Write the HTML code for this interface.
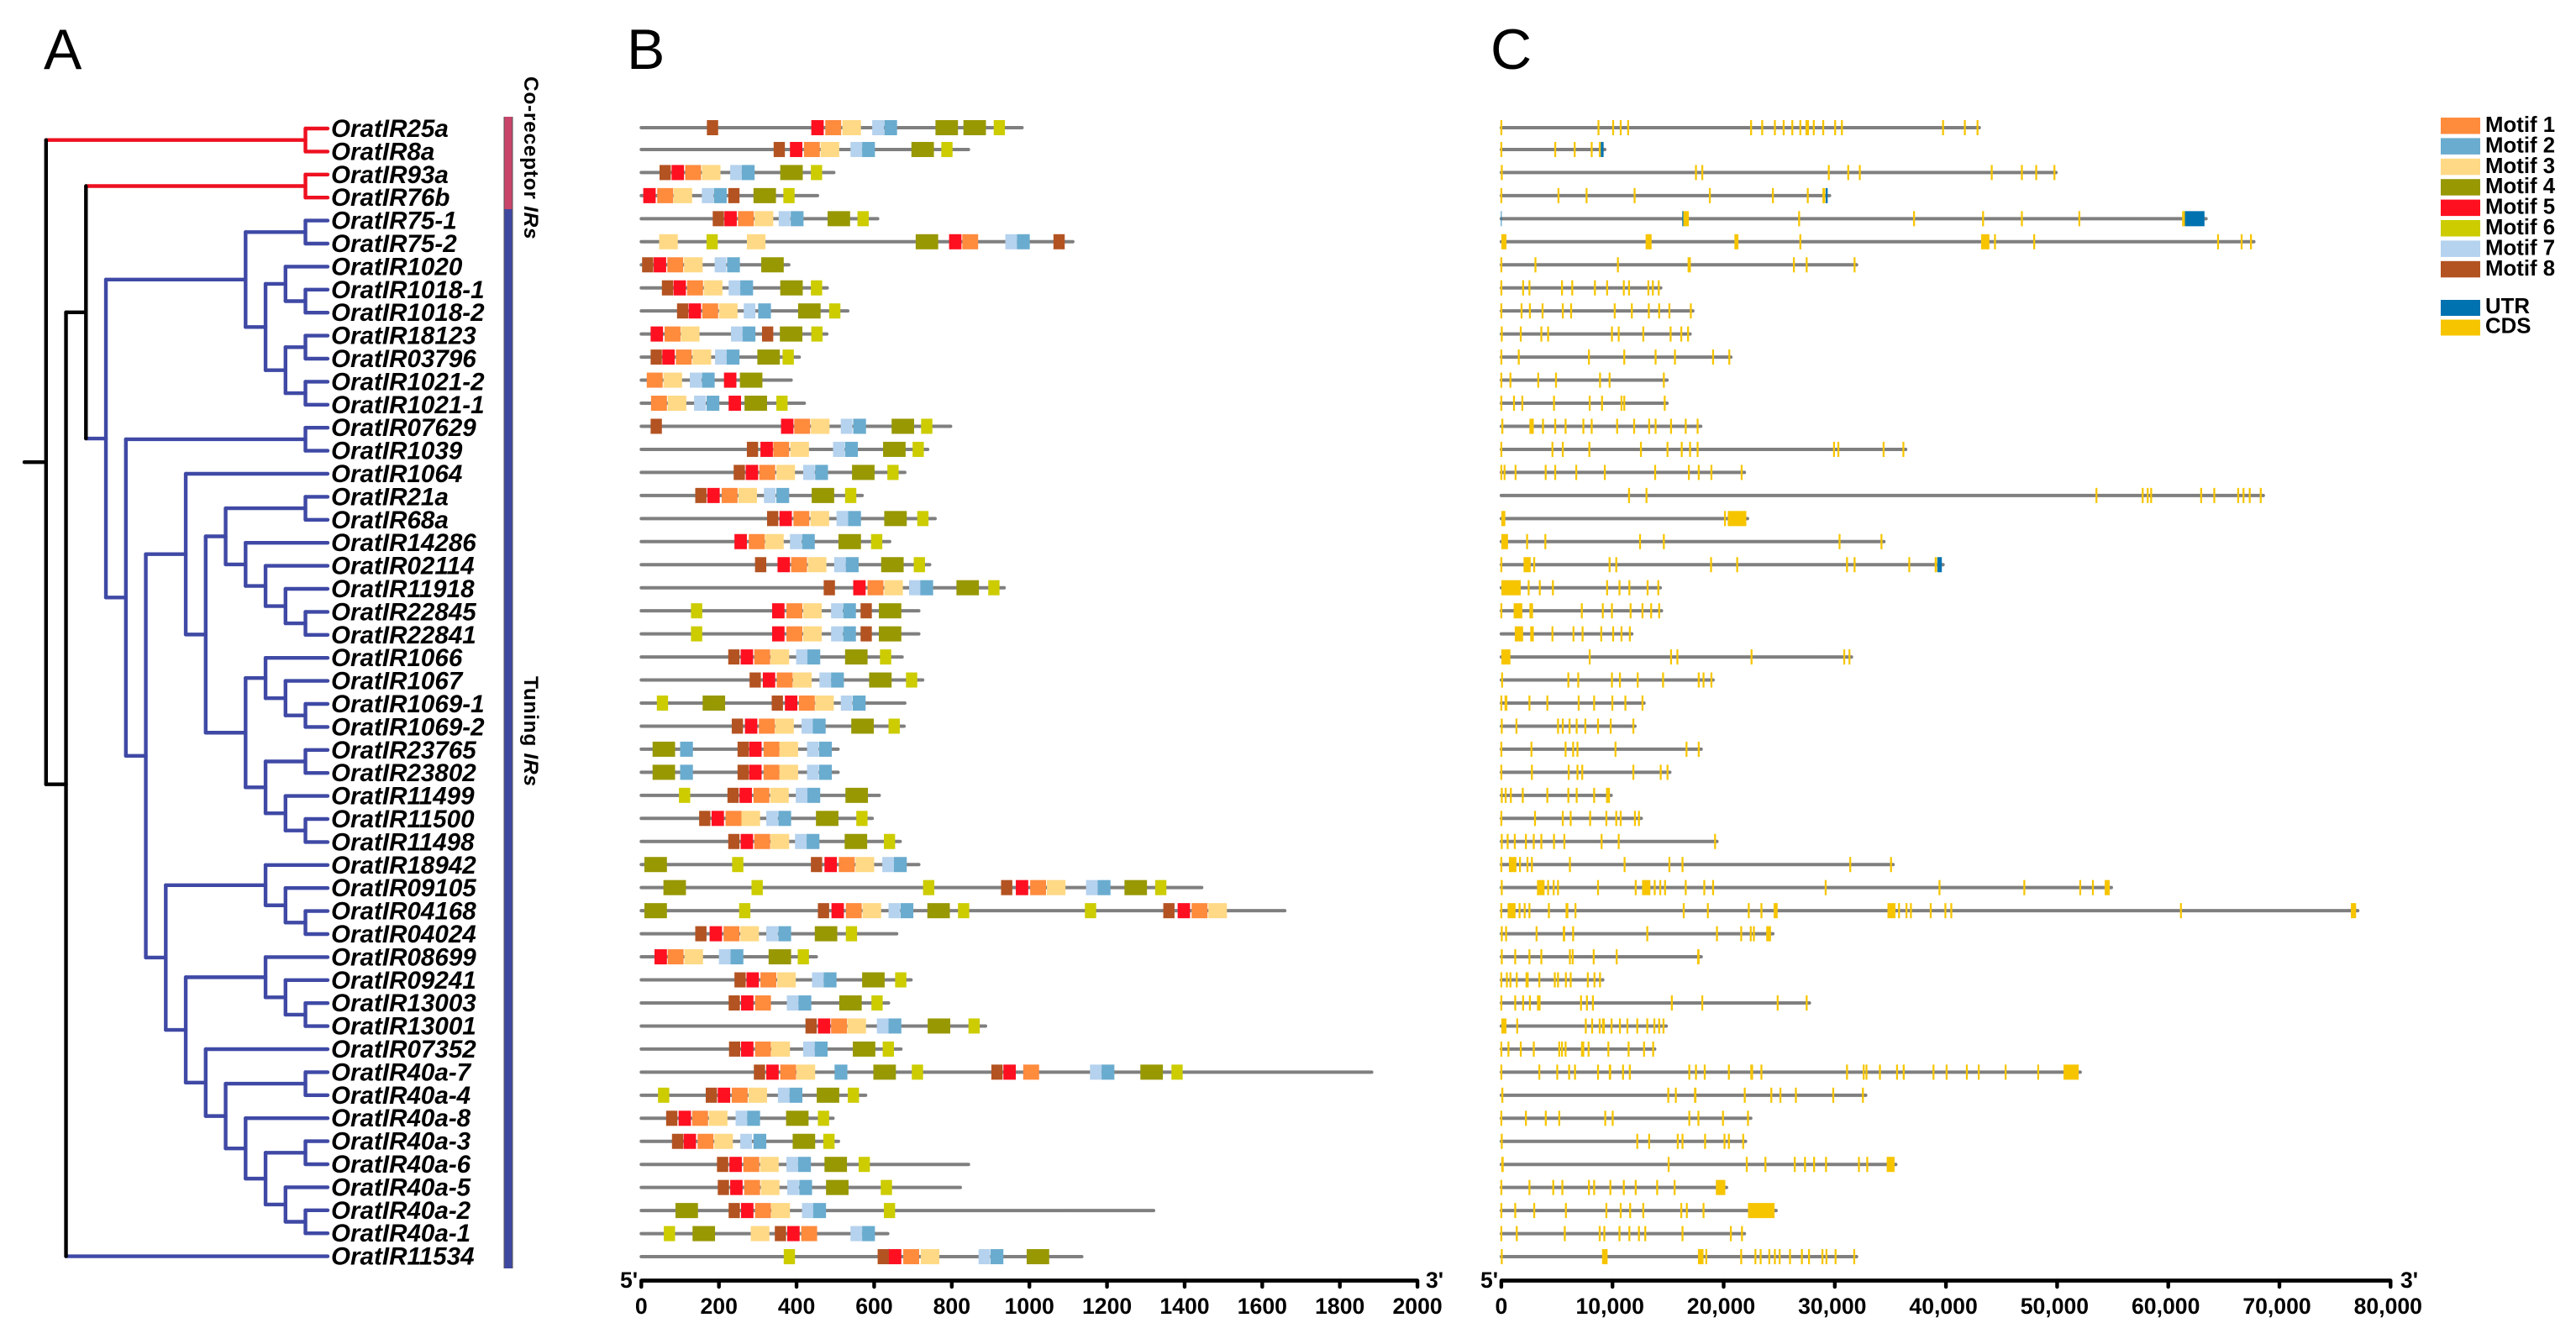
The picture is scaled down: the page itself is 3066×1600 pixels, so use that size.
<!DOCTYPE html>
<html lang="en">
<head>
<meta charset="utf-8">
<title>OratIR phylogeny, motifs and gene structure</title>
<style>
html,body{margin:0;padding:0;background:#fff;}
svg{display:block;font-family:"Liberation Sans",sans-serif;}
.leaf{font-weight:bold;font-style:italic;font-size:29.6px;fill:#000;}
.tick{font-weight:bold;font-size:26.6px;fill:#000;}
.leg{font-weight:bold;font-size:25.8px;fill:#000;}
.panel{font-size:68px;fill:#000;}
.group{font-weight:bold;font-size:24.5px;letter-spacing:0.7px;fill:#000;}
</style>
</head>
<body>
<svg id="figure" width="3066" height="1600" viewBox="0 0 3066 1600" xmlns="http://www.w3.org/2000/svg">
  <rect width="3066" height="1600" fill="#fff"/>
  <text class="panel" x="52" y="82">A</text>
  <text class="panel" x="746" y="82">B</text>
  <text class="panel" x="1774" y="82">C</text>
  <g id="tree"></g>
  <g id="labels"></g>
  <rect x="600" y="139" width="10" height="110" fill="#c9456a"/>
  <rect x="600" y="249" width="10" height="1261" fill="#3f48a0"/>
  <rect x="599.5" y="139" width="1" height="1371" fill="#555"/>
  <rect x="609.5" y="139" width="1" height="1371" fill="#555"/>
  <text class="group" transform="translate(624,91) rotate(90)">Co-receptor <tspan font-style="italic">IRs</tspan></text>
  <text class="group" transform="translate(624,805) rotate(90)">Tuning <tspan font-style="italic">IRs</tspan></text>
  <g id="motifs"></g>
  <g id="exons"></g>
  <g id="axisB"></g>
  <g id="axisC"></g>
  <g id="legend"></g>
</svg>
<script>
const geneNames = ["OratIR25a","OratIR8a","OratIR93a","OratIR76b","OratIR75-1","OratIR75-2","OratIR1020","OratIR1018-1","OratIR1018-2","OratIR18123","OratIR03796","OratIR1021-2","OratIR1021-1","OratIR07629","OratIR1039","OratIR1064","OratIR21a","OratIR68a","OratIR14286","OratIR02114","OratIR11918","OratIR22845","OratIR22841","OratIR1066","OratIR1067","OratIR1069-1","OratIR1069-2","OratIR23765","OratIR23802","OratIR11499","OratIR11500","OratIR11498","OratIR18942","OratIR09105","OratIR04168","OratIR04024","OratIR08699","OratIR09241","OratIR13003","OratIR13001","OratIR07352","OratIR40a-7","OratIR40a-4","OratIR40a-8","OratIR40a-3","OratIR40a-6","OratIR40a-5","OratIR40a-2","OratIR40a-1","OratIR11534"];

// Tree topology: [depth level, child, child]; a bare number is a leaf index into geneNames
const cladeCoA = [13,0,1];
const cladeCoB = [13,2,3];
const clade75 = [10,[13,4,5],[11,[12,6,[13,7,8]],[12,[13,9,10],[13,11,12]]]];
const clade16 = [9,[13,16,17],[10,18,[11,19,[12,20,[13,21,22]]]]];
const clade23 = [10,[11,23,[12,24,[13,25,26]]],[11,[13,27,28],[12,29,[13,30,31]]]];
const clade15 = [7,15,[8,clade16,clade23]];
const clade32 = [11,32,[12,33,[13,34,35]]];
const clade36 = [11,36,[12,37,[13,38,39]]];
const clade41 = [9,[13,41,42],[10,43,[11,[13,44,45],[12,46,[13,47,48]]]]];
const clade32to48 = [6,clade32,[7,clade36,[8,40,clade41]]];
const cladeTuning = [3,clade75,[4,[13,13,14],[5,clade15,clade32to48]]];
const treeShape = [0,cladeCoA,[1,[2,cladeCoB,cladeTuning],49]];

// Protein lengths (aa)
const proteinLengths = [981,843,496,454,609,1112,380,479,532,478,407,386,420,797,738,679,569,757,640,743,935,715,715,672,725,679,677,507,507,613,595,667,715,1444,1658,658,451,695,637,887,669,1882,578,494,508,843,822,1320,635,1135];

// Motif hits per protein: [motif number, start aa]
const motifHits = [
[[8,169],[5,438],[1,474],[3,518],[7,595],[2,626],[4,758],[4,830],[6,908]],
[[8,341],[5,383],[1,419],[3,462],[7,539],[2,569],[4,696],[6,773]],
[[8,47],[5,78],[1,113],[3,156],[7,229],[2,259],[4,358],[6,437]],
[[5,5],[1,41],[3,83],[7,156],[2,187],[8,224],[4,289],[6,366]],
[[8,184],[5,214],[1,249],[3,292],[7,354],[2,385],[4,480],[6,557]],
[[3,46],[6,168],[3,272],[4,707],[5,793],[1,827],[7,938],[2,968],[8,1062]],
[[8,2],[5,32],[1,67],[3,110],[7,189],[2,221],[4,309]],
[[8,53],[5,83],[1,118],[3,161],[7,225],[2,255],[4,358],[6,437]],
[[8,92],[5,122],[1,157],[3,200],[7,264],[2,301],[4,404],[6,484]],
[[5,24],[1,60],[3,102],[7,231],[2,261],[8,311],[4,357],[6,438]],
[[8,24],[5,54],[1,89],[3,132],[7,190],[2,220],[4,299],[6,364]],
[[1,14],[3,57],[7,125],[2,156],[5,213],[4,254]],
[[1,25],[3,68],[7,136],[2,168],[5,225],[4,266],[6,348]],
[[8,24],[5,360],[1,394],[3,437],[7,514],[2,546],[4,645],[6,721]],
[[8,272],[5,307],[1,340],[3,384],[7,494],[2,525],[4,623],[6,699]],
[[8,238],[5,269],[1,304],[3,348],[7,417],[2,448],[4,543],[6,634]],
[[8,139],[5,170],[1,207],[3,250],[7,316],[2,348],[4,439],[6,525]],
[[8,324],[5,356],[1,392],[3,436],[7,503],[2,533],[4,626],[6,711]],
[[5,240],[1,277],[3,319],[7,383],[2,414],[4,508],[6,592]],
[[8,293],[5,351],[1,386],[3,429],[7,497],[2,527],[4,618],[6,702]],
[[8,470],[5,546],[1,583],[3,626],[7,690],[2,719],[4,812],[6,894]],
[[6,128],[5,337],[1,374],[3,417],[7,489],[2,520],[8,565],[4,612]],
[[6,128],[5,337],[1,374],[3,417],[7,489],[2,520],[8,565],[4,612]],
[[8,224],[5,256],[1,291],[3,333],[7,399],[2,428],[4,525],[6,615]],
[[8,279],[5,313],[1,349],[3,391],[7,459],[2,489],[4,587],[6,682]],
[[6,40],[4,158],[8,336],[5,370],[1,406],[3,448],[7,514],[2,545]],
[[8,233],[5,267],[1,303],[3,345],[7,413],[2,442],[4,541],[6,637]],
[[4,29],[2,100],[8,248],[5,278],[1,315],[3,356],[7,427],[2,458]],
[[4,29],[2,100],[8,248],[5,278],[1,315],[3,356],[7,427],[2,458]],
[[6,97],[8,222],[5,253],[1,289],[3,332],[7,398],[2,428],[4,526]],
[[8,149],[5,181],[1,217],[3,258],[7,322],[2,353],[4,450],[6,554]],
[[8,224],[5,256],[1,291],[3,333],[7,396],[2,426],[4,524],[6,625]],
[[4,8],[6,234],[8,437],[5,472],[1,509],[3,552],[7,621],[2,651]],
[[4,57],[6,284],[6,726],[8,927],[5,965],[1,1002],[3,1045],[7,1146],[2,1176],[4,1245],[6,1324]],
[[4,8],[6,252],[8,455],[5,490],[1,527],[3,570],[7,637],[2,668],[4,737],[6,816],[6,1143],[8,1345],[5,1382],[1,1418],[3,1461]],
[[8,139],[5,176],[1,212],[3,255],[7,322],[2,353],[4,447],[6,527]],
[[5,34],[1,68],[3,111],[7,200],[2,230],[4,328],[6,403]],
[[8,240],[5,271],[1,307],[3,350],[7,440],[2,470],[4,569],[6,654]],
[[8,225],[5,257],[1,293],[7,375],[2,405],[4,510],[6,593]],
[[8,423],[5,455],[1,489],[3,531],[7,607],[2,637],[4,738],[6,843]],
[[8,226],[5,257],[1,293],[3,335],[7,417],[2,447],[4,545],[6,622]],
[[8,290],[5,322],[1,358],[3,400],[2,498],[4,598],[6,697],[8,902],[5,933],[1,984],[7,1156],[2,1186],[4,1286],[6,1366]],
[[6,43],[8,166],[5,197],[1,233],[3,276],[7,352],[2,382],[4,452],[6,532]],
[[8,64],[5,96],[1,131],[3,174],[7,243],[2,273],[4,373],[6,455]],
[[8,79],[5,109],[1,145],[3,188],[7,255],[2,289],[4,390],[6,469]],
[[8,195],[5,227],[1,263],[3,306],[7,374],[2,404],[4,472],[6,560]],
[[8,197],[5,229],[1,265],[3,308],[7,376],[2,407],[4,476],[6,617]],
[[4,88],[8,225],[5,257],[1,293],[3,335],[7,414],[2,443],[6,625]],
[[6,58],[4,132],[3,282],[8,344],[5,376],[1,412],[7,539],[2,569]],
[[6,367],[8,609],[5,638],[1,675],[3,720],[7,869],[2,900],[4,993]]
];

// Motif lengths (aa), indexed by motif number - 1
const motifLengths = [41,33,48,58,32,29,30,29];
const motifNames = ["Motif 1","Motif 2","Motif 3","Motif 4","Motif 5","Motif 6","Motif 7","Motif 8"];
const motifColors = ["#ff8b3d","#6aaccf","#ffd985","#989803","#ff1020","#cccc00","#b5d2ee","#b35321"];

// Gene lengths (kb)
const geneLengths = [43.0,9.31,49.9,29.53,63.4,67.7,31.96,14.34,17.23,16.98,20.65,14.91,14.91,17.94,36.38,21.87,68.55,22.15,34.42,39.74,14.3,14.41,11.74,31.5,19.05,12.84,12.02,17.98,15.16,9.88,12.59,19.4,35.24,54.88,77.05,24.43,17.98,9.13,27.72,14.84,13.8,52.08,32.78,22.44,21.97,35.49,20.26,24.72,21.87,31.96];

// CDS per gene (kb): a number is a short exon centre, a pair is [start, end]
const cdsExons = [
[0,8.74,10.06,10.74,11.41,22.47,23.47,24.61,25.4,26.18,26.9,[27.36,27.68],28.11,28.96,30.03,30.64,39.74,41.7,42.84],
[0,4.85,6.6,8.13,[8.77,8.95]],
[0.04,17.51,18.08,29.46,31.21,32.25,44.12,46.83,48.12,49.76],
[0,5.14,7.67,11.99,18.76,24.43,27.57,[28.89,29.14]],
[[16.37,16.87],26.79,37.13,43.34,46.83,52.0,[61.25,61.5]],
[[0,0.46],[12.98,13.52],[20.97,21.33],26.9,[43.16,43.91],44.41,47.94,64.48,66.6,67.44],
[0,3.07,10.49,[16.76,17.05],26.32,27.47,31.78],
[0,1.96,2.53,5.46,6.38,8.42,9.52,11.02,11.49,13.23,13.63,14.16],
[0,1.82,2.57,3.71,5.53,6.28,10.2,11.74,13.27,14.2,15.12,17.05],
[0.04,1.75,3.6,4.21,9.95,10.56,12.77,15.23,16.19,16.8],
[0,1.57,7.88,11.06,13.88,15.62,19.05,20.51],
[0,0.82,3.32,4.92,8.88,9.74,14.62],
[0,1.14,1.89,4.74,7.95,9.06,10.81,11.06,14.7],
[[0,0.18],[2.53,2.92],3.75,4.85,5.78,7.38,8.13,10.42,11.95,13.3,13.88,15.27,16.59,17.66],
[0,4.6,5.53,7.92,12.56,14.95,16.23,16.98,17.66,29.93,30.32,34.39,36.17],
[0,0.29,1.28,3.99,4.85,6.74,9.31,13.84,16.87,17.76,18.9,21.62],
[11.49,13.06,53.54,57.7,58.15,58.46,62.96,64.14,66.29,66.77,67.33,68.32],
[[0,0.36],20.12,[20.37,22.04]],
[[0,0.6],2.32,3.96,12.48,14.62,30.43,34.2],
[0,[2.0,2.64],2.96,9.74,10.34,18.87,21.22,31.1,31.78,36.7,[38.99,39.2]],
[[0,1.75],2.46,3.46,4.64,9.52,10.63,11.52,13.16,14.12],
[0,[1.11,1.89],[2.53,2.85],7.24,9.13,9.95,11.63,12.7,13.48,14.2],
[[1.21,1.96],[2.6,2.92],4.6,6.49,7.31,8.99,10.06,10.81,11.56],
[[0,0.82],7.95,15.27,15.84,22.51,30.85,31.32],
[0.07,6.03,6.92,9.95,10.67,12.27,14.55,17.76,18.19,18.9],
[0,[0.29,0.54],2.53,4.14,6.96,8.35,9.99,11.16,12.7],
[0.04,1.36,5.1,5.53,6.14,6.78,7.56,8.7,9.84,11.88],
[0,2.71,5.78,6.46,6.85,10.27,16.66,17.76],
[0,2.75,6.06,6.85,7.28,11.88,14.34,14.95],
[0.04,0.39,0.86,1.93,4.14,6.03,6.78,8.35,[9.42,9.77]],
[0,3.03,5.53,6.24,7.99,9.45,10.34,10.74,12.02,12.38],
[0.04,0.57,1.21,2.21,2.92,3.6,4.74,5.67,9.02,10.56,19.23],
[0,[0.68,1.36],1.68,2.35,2.75,6.17,11.09,15.12,16.3,31.39,35.06],
[0.04,[3.21,3.89],4.21,4.71,5.1,8.7,12.09,[12.66,13.41],13.8,14.3,14.73,16.59,18.26,19.05,29.18,39.42,47.05,52.08,53.22,[54.28,54.73]],
[0,[0.57,1.28],1.64,2.1,2.53,4.28,[5.78,6.03],6.67,16.41,18.58,22.26,23.4,[24.5,24.86],[34.74,35.46],35.78,36.45,36.85,38.63,39.95,40.48,61.14,[76.43,76.9]],
[0.04,0.43,3.17,[5.53,5.74],6.46,13.13,19.4,21.58,22.44,22.72,[23.83,24.26]],
[0.04,1.25,2.53,3.6,6.17,6.42,8.31,10.38,[17.62,17.83]],
[0,0.5,0.82,1.39,[2.18,2.46],3.42,4.81,5.1,5.81,6.24,7.78,8.38,8.88],
[0,1.25,1.96,2.57,[3.21,3.53],7.17,7.7,8.24,15.34,18.08,24.86,27.47],
[[0,0.46],1.43,7.6,8.17,8.85,[9.06,9.31],9.92,10.67,11.34,12.23,13.13,13.77,14.2,14.59],
[0,0.64,1.75,2.92,5.21,5.46,5.78,[7.17,7.46],7.85,9.63,11.45,12.84,13.66],
[0,3.42,5.03,6.1,6.63,8.7,[9.67,9.88],10.95,11.56,16.91,17.51,18.3,20.47,[22.4,22.65],23.4,31.1,32.6,32.85,34.06,35.6,36.2,38.88,40.06,41.88,42.95,45.37,48.3,[50.58,51.94]],
[[0,0.18],15.02,15.7,[17.34,17.55],21.9,24.29,25.11,26.5,29.86,32.53],
[0,2.21,4.0,5.21,9.35,10.02,16.91,17.73,19.94,22.19],
[0.04,12.23,13.3,15.87,16.3,18.33,20.08,20.47,21.76],
[[0,0.21],15.05,22.08,23.76,26.4,27.32,28.14,29.21,32.17,32.92,[34.67,35.38]],
[0,2.53,4.67,5.49,7.88,8.35,9.81,11.02,12.09,14.02,15.59,[19.3,20.15]],
[0,1.25,2.96,5.81,9.45,10.74,11.59,12.77,16.19,16.69,18.19,[22.19,24.58]],
[0,1.39,5.71,8.85,9.27,10.63,11.52,12.38,12.95,16.3,20.65,21.65],
[0.04,[9.06,9.56],[17.69,18.19],18.44,21.58,22.86,23.33,24.11,24.61,25.04,25.97,27.04,27.68,28.89,29.25,30.07,31.75]
];

// UTR segments: [gene index, start kb, end kb]
const utrSegments = [[1,8.95,9.2],[3,29.18,29.36],[4,-0.03,0.03],[4,16.28,16.37],[4,61.5,63.26],[19,39.23,39.63]];

// Axis ticks
const motifAxisTicks = [0,200,400,600,800,1000,1200,1400,1600,1800,2000];
const geneAxisTicks = [0,10000,20000,30000,40000,50000,60000,70000,80000];
const structureLegendNames = ["UTR","CDS"];

const SVGNS = "http://www.w3.org/2000/svg";
function make(parent, tag, attrs, text) {
  const el = document.createElementNS(SVGNS, tag);
  for (const k in attrs) el.setAttribute(k, attrs[k]);
  if (text !== undefined) el.textContent = text;
  parent.appendChild(el);
  return el;
}

// Scales
const xAA = v => 763.3 + v * 0.4619;
const xBP = v => 1786.9 + v * 0.01323;
const rowY = i => i === 0 ? 152 : 150.5 + 27.46 * i;
const leafY = i => 153 + 27.4 * i;
const levelX = l => 54.8 + 23.75 * l;
const LEAF_X = 390;
const BLACK = "#000", RED = "#ee1020", BLUE = "#3f49a5";

// ---- Tree ----
const treeG = document.getElementById("tree");
function leavesOf(n) {
  if (typeof n === "number") return [n];
  return n.slice(1).flatMap(leavesOf);
}
function colorOf(n, depth) {
  if (leavesOf(n).every(i => i <= 3)) return RED;
  if (typeof n !== "number" && depth <= 2) return BLACK;
  return BLUE;
}
function branch(x1, y1, x2, y2, color, name) {
  const l = make(treeG, "line", {x1: x1, y1: y1, x2: x2, y2: y2, stroke: color, "stroke-width": 4.4, "stroke-linecap": "round"});
  
  
}
function drawNode(n, depth) {
  if (typeof n === "number") return {y: leafY(n), x: LEAF_X};
  const x = levelX(n[0]);
  const color = colorOf(n, depth);
  const kids = n.slice(1).map(c => ({pos: drawNode(c, depth + 1), color: colorOf(c, depth + 1)}));
  kids.forEach(k => branch(x, k.pos.y, k.pos.x, k.pos.y, k.color, "tree-branch"));
  const ys = kids.map(k => k.pos.y);
  const yMin = Math.min(...ys), yMax = Math.max(...ys);
  branch(x, yMin, x, yMax, color, "tree-node-stem");
  return {y: (yMin + yMax) / 2, x: x};
}
const rootPos = drawNode(treeShape, 0);
branch(29, rootPos.y, levelX(0), rootPos.y, BLACK, "tree-root");

// ---- Labels ----
const labelG = document.getElementById("labels");
geneNames.forEach((name, i) => {
  const t = make(labelG, "text", {class: "leaf", x: 394, y: leafY(i) + 10}, name);
  
  
});

// ---- Motif panel ----
const motifG = document.getElementById("motifs");
geneNames.forEach((name, i) => {
  const y = rowY(i);
  const g = make(motifG, "g", {});
  
  
  const line = make(g, "line", {x1: xAA(0), y1: y, x2: xAA(proteinLengths[i]), y2: y, stroke: "#7f7f7f", "stroke-width": 4, "stroke-linecap": "round"});
  
  
  motifHits[i].forEach(hit => {
    const m = hit[0], start = hit[1];
    const r = make(g, "rect", {x: xAA(start), y: y - 9, width: xAA(motifLengths[m - 1]) - xAA(0), height: 18, fill: motifColors[m - 1]});
    
    
  });
});

// ---- Gene structure panel ----
const exonG = document.getElementById("exons");
geneNames.forEach((name, i) => {
  const y = rowY(i);
  const g = make(exonG, "g", {id: "gene-" + i});
  
  
  const line = make(g, "line", {x1: xBP(0), y1: y, x2: xBP(geneLengths[i] * 1000), y2: y, stroke: "#7f7f7f", "stroke-width": 4, "stroke-linecap": "round"});
  
  
  cdsExons[i].forEach(e => {
    const s = Array.isArray(e) ? e[0] : e - 0.085;
    const f = Array.isArray(e) ? e[1] : e + 0.085;
    const r = make(g, "rect", {x: xBP(s * 1000), y: y - 9, width: xBP(f * 1000) - xBP(s * 1000), height: 18, fill: "#f7c500"});
    
    
  });
});
utrSegments.forEach(u => {
  const y = rowY(u[0]);
  const r = make(document.getElementById("gene-" + u[0]), "rect", {x: xBP(u[1] * 1000), y: y - 9, width: xBP(u[2] * 1000) - xBP(u[1] * 1000), height: 18, fill: "#0072b0"});
  
  
});

// ---- Axes ----
function drawAxis(gId, ticks, scale, labelOf, labelShift, fiveX, threeX) {
  const g = document.getElementById(gId);
  const AY = 1524.5;
  const base = make(g, "line", {x1: scale(ticks[0]), y1: AY, x2: scale(ticks[ticks.length - 1]), y2: AY, stroke: "#000", "stroke-width": 4.8});
  
  
  ticks.forEach((v, i) => {
    const t = make(g, "line", {x1: scale(v), y1: AY, x2: scale(v), y2: 1532, stroke: "#000", "stroke-width": 4.4, "stroke-linecap": "round"});
    
    
    const lab = make(g, "text", {class: "tick", x: scale(v) + (i ? labelShift : 0), y: 1564, "text-anchor": "middle"}, labelOf(v));
    
    
  });
  const five = make(g, "text", {class: "tick", x: fiveX, y: 1533}, "5'");
  
  
  const three = make(g, "text", {class: "tick", x: threeX, y: 1533}, "3'");
  
  
}
drawAxis("axisB", motifAxisTicks, xAA, v => String(v), 0, 738, 1697);
drawAxis("axisC", geneAxisTicks, xBP, v => v.toLocaleString("en-US"), -3, 1762, 2857);

// ---- Legend ----
const legendG = document.getElementById("legend");
motifNames.forEach((name, i) => {
  const boxY = 140 + 24.4 * i;
  const r = make(legendG, "rect", {x: 2905, y: boxY, width: 47, height: 19.5, fill: motifColors[i]});
  
  
  const t = make(legendG, "text", {class: "leg", x: 2958, y: boxY + 17}, name);
  
  
});
structureLegendNames.forEach((name, i) => {
  const boxY = 357 + 23.5 * i;
  const r = make(legendG, "rect", {x: 2905, y: boxY, width: 47, height: 19, fill: i ? "#f7c500" : "#0072b0"});
  
  
  const t = make(legendG, "text", {class: "leg", x: 2958, y: boxY + 16}, name);
  
  
});
</script>
</body>
</html>
